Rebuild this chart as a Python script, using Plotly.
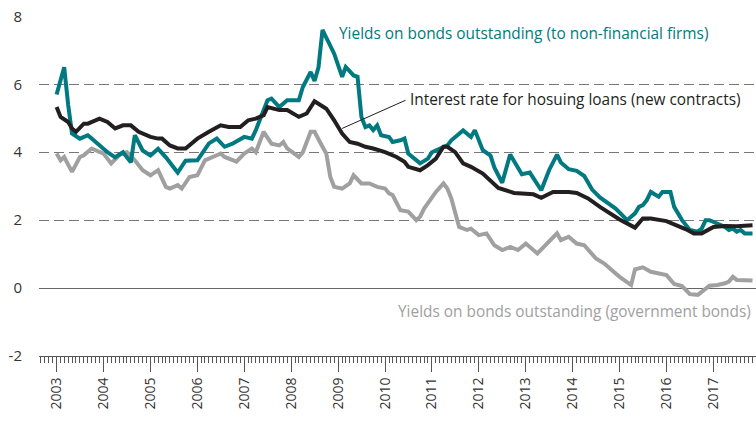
import plotly.graph_objects as go

# Yields on bonds outstanding (to non-financial firms)
firm_dates = ["2003-01","2003-03","2003-04","2003-05","2003-07","2003-09","2003-10","2003-12",
              "2004-02","2004-04","2004-06","2004-08","2004-09","2004-11",
              "2005-01","2005-03","2005-05","2005-07","2005-08","2005-10",
              "2006-01","2006-04","2006-06","2006-08","2006-10",
              "2007-01","2007-03","2007-04","2007-06","2007-07","2007-08","2007-10","2007-12",
              "2008-03","2008-04","2008-06","2008-07","2008-08","2008-09","2008-12",
              "2009-02","2009-03","2009-05","2009-06","2009-07","2009-08","2009-09","2009-10","2009-11","2009-12",
              "2010-02","2010-03","2010-05","2010-06","2010-07","2010-08","2010-10","2010-12",
              "2011-01","2011-03","2011-05","2011-06","2011-09","2011-11","2011-12",
              "2012-02","2012-04","2012-05","2012-07","2012-09","2012-10","2012-12",
              "2013-02","2013-04","2013-05","2013-07","2013-09","2013-10","2013-12",
              "2014-02","2014-04","2014-06","2014-08","2014-12",
              "2015-03","2015-05","2015-06","2015-07","2015-08","2015-09","2015-11","2015-12",
              "2016-02","2016-03","2016-04","2016-05","2016-07","2016-09","2016-10","2016-11","2016-12",
              "2017-02","2017-04","2017-05","2017-06","2017-07","2017-08","2017-09","2017-11"]
firm_vals = [5.7,6.5,5.4,4.55,4.4,4.5,4.4,4.2,
             4.0,3.85,4.0,3.7,4.5,4.05,
             3.9,4.1,3.85,3.55,3.4,3.75,
             3.76,4.26,4.4,4.16,4.25,
             4.45,4.4,4.65,5.24,5.53,5.58,5.33,5.53,
             5.53,5.92,6.36,6.1,6.5,7.6,6.9,
             6.22,6.51,6.26,6.22,5.04,4.74,4.79,4.65,4.79,4.5,
             4.45,4.3,4.35,4.4,3.96,3.86,3.67,3.81,
             4.0,4.1,4.2,4.35,4.64,4.45,4.65,
             4.06,3.9,3.55,3.1,3.93,3.72,3.35,
             3.4,3.05,2.88,3.47,3.93,3.7,3.5,
             3.45,3.3,2.9,2.67,2.34,
             2.0,2.2,2.39,2.44,2.59,2.83,2.69,2.83,
             2.83,2.39,2.2,2.0,1.71,1.66,1.75,2.0,2.0,
             1.9,1.8,1.71,1.75,1.66,1.71,1.61,1.61]

# Interest rate for housing loans (new contracts)
loan_dates = ["2003-01","2003-02","2003-04","2003-05","2003-06","2003-08","2003-09","2003-12",
              "2004-02","2004-04","2004-06","2004-08","2004-10",
              "2005-01","2005-03","2005-04","2005-06","2005-08","2005-10",
              "2006-01","2006-04","2006-07","2006-09","2006-12",
              "2007-02","2007-04","2007-06","2007-07","2007-10","2007-12",
              "2008-03","2008-05","2008-07","2008-08","2008-10","2008-12",
              "2009-02","2009-04","2009-06","2009-08","2009-10",
              "2010-01","2010-04","2010-06","2010-07","2010-10","2010-12",
              "2011-02","2011-04","2011-05","2011-07","2011-09","2011-11",
              "2012-02","2012-04","2012-06","2012-10",
              "2013-01","2013-03","2013-05","2013-08","2013-12",
              "2014-02","2014-05","2014-08",
              "2015-01","2015-05","2015-07","2015-09",
              "2016-01","2016-03","2016-06","2016-08","2016-10",
              "2017-01","2017-04","2017-07","2017-10","2017-11"]
loan_vals = [5.33,5.04,4.89,4.7,4.6,4.84,4.84,4.99,
             4.89,4.7,4.79,4.79,4.6,
             4.45,4.4,4.4,4.2,4.11,4.11,
             4.4,4.6,4.79,4.74,4.74,
             4.94,4.99,5.09,5.33,5.24,5.24,
             5.04,5.14,5.5,5.43,5.28,4.94,
             4.55,4.3,4.25,4.16,4.11,
             4.0,3.86,3.72,3.57,3.47,3.62,
             3.81,4.16,4.16,4.0,3.67,3.57,
             3.37,3.18,2.95,2.8,
             2.76,2.76,2.66,2.83,2.83,
             2.8,2.64,2.39,
             2.02,1.78,2.05,2.05,
             1.97,1.88,1.73,1.61,1.61,
             1.8,1.83,1.82,1.85,1.85]

# Yields on bonds outstanding (government bonds)
gov_dates = ["2003-01","2003-02","2003-03","2003-05","2003-07","2003-08","2003-10",
             "2004-01","2004-03","2004-05","2004-07","2004-09","2004-11",
             "2005-01","2005-03","2005-05","2005-06","2005-08","2005-09","2005-11",
             "2006-01","2006-03","2006-06","2006-07","2006-08","2006-11",
             "2007-01","2007-03","2007-04","2007-06","2007-08","2007-10","2007-11","2007-12",
             "2008-03","2008-04","2008-06","2008-07","2008-09","2008-10","2008-11","2008-12",
             "2009-02","2009-04","2009-05","2009-07","2009-09","2009-11",
             "2010-01","2010-02","2010-03","2010-05","2010-07","2010-09","2010-10","2010-11",
             "2011-02","2011-04","2011-05","2011-06","2011-08","2011-10","2011-11",
             "2012-01","2012-03","2012-05","2012-07","2012-09","2012-11",
             "2013-01","2013-04","2013-06","2013-09","2013-10","2013-12",
             "2014-02","2014-04","2014-07","2014-09",
             "2015-01","2015-04","2015-05","2015-07","2015-09","2015-11",
             "2016-01","2016-03","2016-05","2016-07","2016-09","2016-12",
             "2017-02","2017-04","2017-05","2017-06","2017-07","2017-11"]
gov_vals = [3.96,3.76,3.86,3.42,3.86,3.91,4.11,
            3.96,3.67,3.91,4.0,3.76,3.47,
            3.32,3.47,2.98,2.93,3.03,2.93,3.27,
            3.32,3.76,3.91,3.96,3.86,3.72,
            3.96,4.11,4.0,4.6,4.25,4.2,4.3,4.11,
            3.86,4.0,4.6,4.6,4.16,3.96,3.27,2.98,
            2.93,3.08,3.32,3.08,3.08,2.98,
            2.93,2.79,2.74,2.29,2.25,2.0,2.1,2.34,
            2.83,3.08,2.93,2.64,1.8,1.71,1.75,
            1.56,1.61,1.26,1.12,1.21,1.12,
            1.31,1.02,1.26,1.61,1.41,1.51,
            1.31,1.26,0.87,0.73,
            0.33,0.09,0.55,0.61,0.48,0.43,
            0.38,0.12,0.06,-0.18,-0.2,0.07,
            0.09,0.14,0.19,0.33,0.24,0.22]

y_ticks = [-2, 0, 2, 4, 6, 8]

TEAL = "#007a80"
BLACK = "#231f20"
GREY = "#a0a0a0"
FONT = "Open Sans"
LBL = 15.4

fig = go.Figure()
fig.add_trace(go.Scatter(x=gov_dates, y=gov_vals, mode="lines",
                         line=dict(color=GREY, width=4), showlegend=False))
fig.add_trace(go.Scatter(x=firm_dates, y=firm_vals, mode="lines",
                         line=dict(color=TEAL, width=4), showlegend=False))
fig.add_trace(go.Scatter(x=loan_dates, y=loan_vals, mode="lines",
                         line=dict(color=BLACK, width=4), showlegend=False))

fig.add_annotation(x="2008-12-20", y=7.5, text="Yields on bonds outstanding (to non-financial firms)",
                   showarrow=False, xanchor="left", yanchor="middle",
                   font=dict(family=FONT, size=LBL, color=TEAL))
fig.add_annotation(x="2010-07-01", y=5.56, text="Interest rate for hosuing loans (new contracts)",
                   showarrow=False, xanchor="left", yanchor="middle",
                   font=dict(family=FONT, size=LBL, color=BLACK))
fig.add_annotation(x="2017-11-01", y=-0.68, text="Yields on bonds outstanding (government bonds)",
                   showarrow=False, xanchor="right", yanchor="middle",
                   font=dict(family=FONT, size=LBL, color=GREY))
fig.add_shape(type="line", xref="x", yref="y", x0="2009-02-01", y0=4.7, x1="2010-06-10", y1=5.53,
              line=dict(color=BLACK, width=1))

fig.update_layout(
    width=756, height=423,
    margin=dict(l=39, r=0, t=16, b=67),
    paper_bgcolor="white", plot_bgcolor="white",
    font=dict(family=FONT, size=14, color="#333333"),
)
fig.update_xaxes(
    type="date", range=["2002-08-17", "2017-11-28"], automargin=False,
    tick0="2003-01-01", dtick="M12", tickformat="%Y", tickangle=-90,
    ticks="outside", ticklen=15, tickcolor="#555555", tickwidth=1,
    minor=dict(dtick="M1", ticks="outside", ticklen=6, tickcolor="#555555", tickwidth=1, showgrid=False),
    showline=True, linecolor="#555555", linewidth=1,
    showgrid=False, zeroline=False,
    tickfont=dict(family=FONT, size=14, color="#333333"),
)
fig.update_yaxes(
    range=[-2, 8.01], tickvals=y_ticks, ticktext=[str(v) for v in y_ticks], automargin=False,
    showgrid=True, gridcolor="#777777", gridwidth=1, griddash="10px,5px",
    zeroline=True, zerolinecolor="#666666", zerolinewidth=1.2,
    showline=False, ticks="", ticklabelstandoff=16, ticklabeloverflow="allow",
    tickfont=dict(family=FONT, size=15, color="#333333"),
)

# remove the browser's default 8px page margin so the figure fills the window
fig.write_html("out.html", config={"displayModeBar": False},
               post_script="document.body.style.margin='0';")
